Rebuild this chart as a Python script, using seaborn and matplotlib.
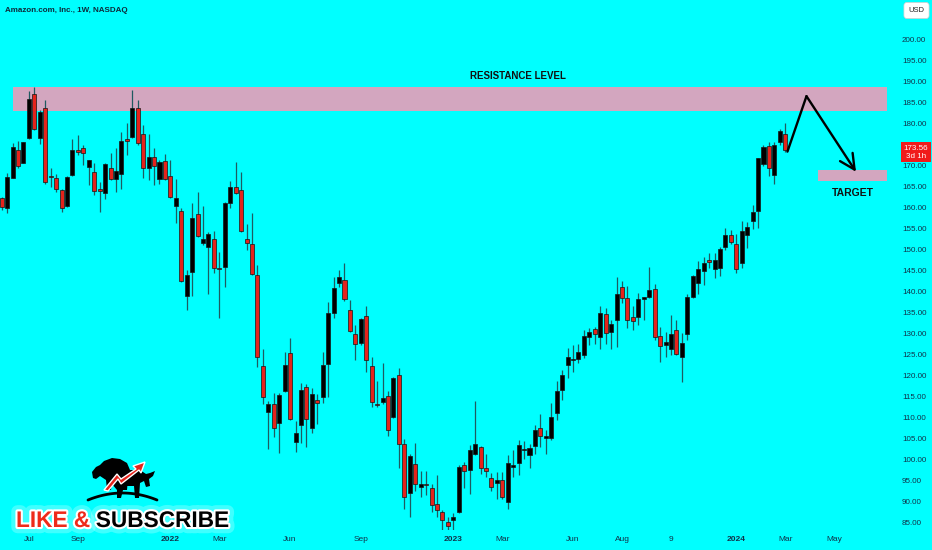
import numpy as np
import pandas as pd
import seaborn as sns
import matplotlib.pyplot as plt
from matplotlib import font_manager
from matplotlib import patheffects as pe
from matplotlib.patches import Polygon
from matplotlib.transforms import blended_transform_factory

# weekly AMZN candles (first bar = week of 2021-05-31)
first_week = "2021-05-31"
opens = [162.1, 159.7, 167.0, 173.7, 170.5, 176.4, 186.9, 176.4, 183.5, 167.4,
         167.0, 164.0, 160.3, 167.6, 173.7, 174.0, 169.6, 168.4, 164.2, 163.4,
         169.2, 166.6, 167.9, 176.1, 176.6, 183.7, 177.3, 169.4, 171.8, 166.6,
         170.9, 167.4, 160.3, 159.0, 138.8, 144.6, 158.3, 151.5, 150.4, 152.3,
         145.4, 145.8, 161.0, 164.7, 164.0, 152.5, 151.3, 143.8, 122.2, 111.1,
         113.1, 108.5, 116.3, 125.2, 104.1, 108.1, 117.1, 107.5, 114.0, 114.8,
         122.6, 134.7, 142.0, 142.6, 135.6, 129.8, 127.7, 134.0, 122.1, 113.2,
         113.5, 115.0, 110.1, 120.0, 103.6, 91.8, 98.8, 93.4, 94.0, 93.0,
         89.3, 87.5, 85.1, 85.5, 87.5, 98.6, 97.5, 101.1, 102.9, 97.9,
         95.4, 94.2, 95.1, 89.8, 98.2, 99.0, 102.2, 101.0, 103.1, 107.5,
         105.0, 104.9, 111.0, 116.4, 122.3, 123.5, 123.7, 124.8, 129.1, 130.9,
         129.0, 134.5, 130.3, 133.1, 140.9, 138.3, 133.7, 133.7, 138.0, 138.6,
         140.4, 129.3, 127.1, 126.1, 130.7, 124.4, 129.8, 138.6, 142.0, 144.8,
         147.5, 145.2, 145.6, 150.4, 153.3, 151.3, 146.6, 153.3, 156.7, 159.1,
         170.2, 174.5, 167.6, 175.6, 177.4]
highs = [162.5, 168.2, 175.2, 175.7, 175.6, 187.7, 188.7, 183.1, 185.5, 169.2,
         167.8, 164.4, 167.4, 176.1, 177.1, 174.8, 171.3, 170.6, 166.0, 170.4,
         172.9, 174.0, 177.9, 179.9, 187.9, 185.5, 179.5, 177.3, 174.0, 171.2,
         172.6, 171.2, 166.7, 159.7, 145.0, 161.0, 163.6, 160.2, 154.1, 154.3,
         149.4, 161.3, 166.3, 170.8, 168.4, 155.9, 158.6, 146.2, 126.1, 113.7,
         115.8, 115.8, 125.6, 128.9, 109.0, 118.0, 117.9, 116.8, 115.6, 125.6,
         137.5, 143.4, 145.0, 146.6, 137.9, 131.9, 133.5, 136.4, 124.4, 118.6,
         122.9, 116.2, 119.6, 121.6, 104.7, 101.3, 103.7, 97.2, 97.2, 94.0,
         96.2, 87.9, 86.3, 87.1, 98.6, 99.4, 103.3, 113.9, 103.1, 101.2,
         96.6, 97.0, 97.0, 100.9, 102.1, 104.5, 104.4, 103.6, 108.1, 110.7,
         106.9, 113.3, 118.6, 121.2, 126.5, 127.1, 127.5, 130.7, 131.3, 131.5,
         136.4, 135.9, 133.1, 143.4, 142.5, 141.2, 136.4, 139.6, 138.6, 145.8,
         141.7, 131.5, 130.3, 134.3, 133.1, 129.9, 139.3, 143.8, 147.2, 148.2,
         149.1, 149.0, 150.6, 155.0, 154.5, 153.6, 156.7, 156.5, 160.5, 171.7,
         174.8, 175.6, 175.6, 178.7, 179.9]
lows = [159.3, 158.6, 166.8, 169.4, 170.4, 176.1, 178.3, 174.9, 165.6, 164.8,
        163.6, 158.9, 160.1, 167.4, 172.4, 170.0, 165.2, 162.9, 158.9, 161.8,
        166.4, 163.6, 164.2, 172.4, 176.4, 174.8, 166.8, 166.4, 165.2, 165.6,
        166.4, 162.1, 156.3, 142.2, 135.5, 138.7, 152.9, 150.9, 139.4, 144.2,
        133.5, 141.0, 159.7, 163.0, 154.1, 149.8, 143.8, 121.8, 113.1, 102.5,
        105.3, 101.5, 116.0, 109.3, 101.7, 103.7, 102.8, 106.3, 108.3, 113.3,
        114.8, 133.5, 141.0, 137.7, 130.3, 123.6, 127.1, 120.8, 112.5, 112.5,
        113.2, 105.5, 109.7, 97.8, 88.0, 86.1, 92.5, 90.9, 91.4, 87.5,
        86.3, 82.7, 82.7, 82.7, 87.2, 93.0, 91.7, 101.0, 96.4, 95.8,
        92.5, 90.5, 90.4, 88.2, 95.8, 96.3, 99.9, 97.8, 101.3, 102.8,
        101.2, 104.6, 109.4, 114.0, 119.2, 120.8, 122.8, 124.0, 127.1, 127.5,
        126.1, 127.5, 126.3, 126.6, 137.1, 131.1, 130.7, 131.9, 133.1, 138.4,
        128.3, 123.2, 124.2, 124.8, 124.8, 118.4, 128.3, 138.3, 139.4, 141.4,
        145.4, 143.0, 143.6, 149.8, 151.3, 144.2, 145.6, 150.2, 154.7, 154.9,
        169.8, 167.5, 165.6, 174.8, 173.2]
closes = [160.1, 167.2, 174.2, 169.8, 175.4, 185.7, 178.5, 182.7, 166.0, 167.1,
          164.3, 159.7, 167.2, 173.7, 173.2, 172.8, 171.2, 163.9, 163.8, 170.2,
          166.6, 168.7, 175.7, 175.8, 183.7, 175.2, 169.2, 172.0, 169.8, 170.8,
          166.6, 162.3, 162.1, 142.4, 143.8, 157.5, 153.1, 152.5, 153.7, 145.6,
          145.2, 161.0, 164.7, 163.3, 154.3, 151.5, 144.1, 124.2, 114.7, 113.0,
          107.5, 115.2, 122.3, 109.6, 106.3, 116.4, 109.5, 115.4, 113.4, 122.3,
          134.8, 140.8, 143.4, 138.0, 130.6, 127.5, 133.3, 123.6, 113.6, 112.8,
          114.6, 106.8, 119.3, 103.5, 90.9, 100.8, 94.0, 94.0, 93.8, 89.0,
          87.8, 85.5, 84.1, 86.1, 98.2, 97.2, 102.1, 103.5, 97.8, 97.1,
          93.4, 95.0, 90.9, 99.0, 98.6, 103.3, 102.5, 102.7, 106.9, 105.5,
          105.5, 110.1, 116.3, 120.0, 124.2, 123.6, 125.4, 129.3, 130.3, 129.7,
          134.7, 129.9, 132.1, 139.4, 138.3, 133.1, 132.9, 138.0, 138.6, 140.2,
          129.0, 126.9, 127.9, 129.8, 125.0, 127.7, 138.5, 143.6, 145.2, 146.7,
          147.0, 147.4, 149.9, 153.3, 151.7, 145.2, 154.4, 155.3, 158.9, 171.6,
          174.2, 169.4, 174.8, 178.1, 173.56]

tick_dates = ["2021-07-05", "2021-09-06", "2022-01-03", "2022-03-07", "2022-06-06",
              "2022-09-05", "2023-01-02", "2023-03-06", "2023-06-05", "2023-08-07",
              "2023-10-09", "2024-01-01", "2024-03-04", "2024-05-06"]
tick_labels = ["Jul", "Sep", "2022", "Mar", "Jun", "Sep", "2023", "Mar", "Jun",
               "Aug", "9", "2024", "Mar", "May"]
price_ticks = list(range(85, 205, 5))

resistance = (182.9, 188.6)
target = (166.2, 168.8)

bg = "#00ffff"
red = "#e5231b"
wick = "#1f5a60"
pink = "#d3a6bf"
ink = "#10324a"

sns.set_theme(style="white", rc={"axes.facecolor": bg, "figure.facecolor": bg})
names = {f.name for f in font_manager.fontManager.ttflist}
narrow = "Liberation Sans Narrow" if "Liberation Sans Narrow" in names else "Liberation Sans"
plt.rcParams["font.family"] = [narrow, "DejaVu Sans"]

weeks = pd.date_range(first_week, periods=len(opens), freq="7D")
x = np.arange(len(weeks))
o = np.array(opens)
c = np.array(closes)
up = c >= o
tick_x = (pd.to_datetime(tick_dates) - weeks[0]).days / 7

fig = plt.figure(figsize=(9.32, 5.5), dpi=100)
ax = fig.add_axes([0, 20 / 550, 893 / 932, 530 / 550])
ax.set_xlim(-0.31, 163.8)
ax.set_ylim(83.1, 209.3)

# zones
ax.fill_between([2.1, 162.7], *resistance, color=pink, lw=0, zorder=1)
ax.fill_between([150.1, 162.7], *target, color=pink, lw=0, zorder=1)

# candles
ax.vlines(x, lows, highs, color=wick, lw=0.9, zorder=2)
ax.bar(x, np.maximum(np.abs(c - o), 0.25), bottom=np.minimum(o, c), width=0.74,
       color=np.where(up, "black", red), edgecolor="#151515", linewidth=0.5, zorder=3)

# projection arrow
path_x = [144.4, 147.9, 157.0]
path_p = [173.2, 186.4, 168.4]
ax.plot(path_x[:2], path_p[:2], color="black", lw=1.7, solid_capstyle="round", zorder=4)
ax.annotate("", xy=(path_x[2], path_p[2]), xytext=(path_x[1], path_p[1]),
            arrowprops=dict(arrowstyle="->,head_length=0.9,head_width=0.45",
                            lw=1.7, color="black", shrinkA=0, shrinkB=0), zorder=4)

ax.text(94.9, 191.1, "RESISTANCE LEVEL", ha="center", va="center",
        fontsize=7, fontweight="bold", color="#111111")
ax.text(156.5, 163.3, "TARGET", ha="center", va="center",
        fontsize=7.5, fontweight="bold", color="#111111")

# axes
ax.yaxis.tick_right()
ax.set_yticks(price_ticks)
ax.set_yticklabels([f"{p:.2f}" for p in price_ticks])
ax.set_xticks(tick_x)
ax.set_xticklabels(tick_labels)
for lab in ax.get_xticklabels():
    if lab.get_text().isdigit() and len(lab.get_text()) == 4:
        lab.set_fontweight("bold")
ax.tick_params(axis="y", length=0, pad=6.5, labelsize=5.8, labelcolor=ink)
ax.tick_params(axis="x", length=0, pad=4, labelsize=6, labelcolor=ink)
for s in ax.spines.values():
    s.set_visible(False)
ax.grid(False)

# last price tag (sits over the 170/175 labels, as in the terminal)
trans = blended_transform_factory(ax.transAxes, ax.transData)
ax.text(1.0257, closes[-1] + 1.3, f"{closes[-1]:.2f}\n3d 1h", transform=trans,
        ha="center", va="top", fontsize=5.8, color="white", linespacing=1.2,
        clip_on=False, zorder=6,
        bbox=dict(boxstyle="square,pad=0.35", fc="#f01a1a", ec="none"))

# overlay in pixel coords for title, currency box and logo
ov = fig.add_axes([0, 0, 1, 1])
ov.set_xlim(0, 932)
ov.set_ylim(550, 0)
ov.axis("off")
ov.patch.set_alpha(0)

ov.text(5, 11, "Amazon.com, Inc., 1W, NASDAQ", fontsize=5.8, va="center",
        color="#0d2b3b", fontweight="bold")
ov.text(916.5, 10.5, "USD", ha="center", va="center", fontsize=5.5, color="#222222",
        bbox=dict(boxstyle="round,pad=0.6,rounding_size=0.4", fc="white",
                  ec="#cccccc", lw=0.5))

glow = [pe.withStroke(linewidth=9, foreground="white", alpha=0.25),
        pe.withStroke(linewidth=3, foreground="white")]

hx = np.linspace(88, 157, 40)
ov.plot(hx, 500 - 7 * (1 - ((hx - 122.5) / 34.5) ** 2), color="black", lw=2)
bear = [(93, 478), (92, 472), (96, 467), (100, 465), (104, 461), (112, 458), (120, 459),
        (127, 463), (130, 470), (128, 478), (127, 490), (123, 490), (122, 482), (112, 482),
        (111, 490), (107, 490), (106, 480), (100, 476), (96, 479)]
bull = [(112, 484), (118, 474), (130, 470), (140, 470), (146, 474), (150, 473), (155, 471),
        (153, 476), (149, 479), (150, 486), (146, 487), (144, 481), (140, 483), (139, 498),
        (135, 498), (134, 486), (124, 486), (121, 498), (117, 498), (117, 490)]
swoosh = [(104, 490), (117, 474), (121, 479), (136, 469), (133, 466), (145, 462),
          (141, 473), (139, 470), (121, 484), (118, 479), (108, 491)]
ov.add_patch(Polygon(bear, closed=True, fc="black", ec="none"))
ov.add_patch(Polygon(bull, closed=True, fc="black", ec="none"))
ov.add_patch(Polygon(swoosh, closed=True, fc=red, ec="white", lw=1))

like = ov.text(16, 527, "LIKE &", fontsize=16.3, fontweight="bold", color="#ee2a1a",
               va="baseline", path_effects=glow)
ov.annotate("SUBSCRIBE", xy=(1, 0), xycoords=like, xytext=(4, 0),
            textcoords="offset points", fontsize=16.3, fontweight="bold",
            color="black", va="bottom", path_effects=glow)

fig.savefig("out.png", dpi=100, facecolor=bg)
